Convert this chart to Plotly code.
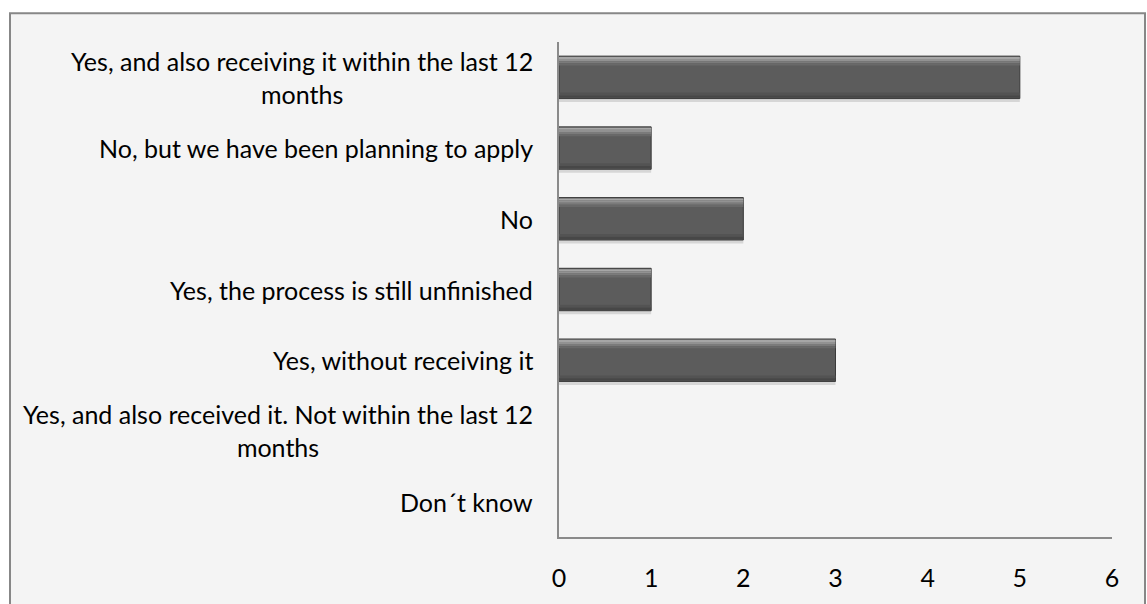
import plotly.graph_objects as go

# Survey answers (top to bottom) and counts
categories = [
    "Yes, and also receiving it within the last 12<br>months",
    "No, but we have been planning to apply",
    "No",
    "Yes, the process is still unfinished",
    "Yes, without receiving it",
    "Yes, and also received it. Not within the last 12<br>months",
    "Don´t know",
]
counts = [5, 1, 2, 1, 3, 0, 0]
x_ticks = [0, 1, 2, 3, 4, 5, 6]

W, H = 1147, 604
M_L, M_R, M_T, M_B = 559, 35, 42, 61
PW, PH = W - M_L - M_R, H - M_T - M_B

FONT = "Lato, Carlito, Calibri, sans-serif"
BAR_W = 0.6

# outline only for bars that have a length
edge_colors = ["#3a3a3a" if v > 0 else "rgba(0,0,0,0)" for v in counts]

fig = go.Figure()

# soft drop shadow under each bar
fig.add_trace(go.Bar(
    y=categories, x=counts, orientation="h", width=BAR_W, offset=-BAR_W / 2 + 0.05,
    marker=dict(color="rgba(0,0,0,0.12)", line=dict(width=0)), hoverinfo="skip",
))
# main bar body
fig.add_trace(go.Bar(
    y=categories, x=counts, orientation="h", width=BAR_W, offset=-BAR_W / 2,
    marker=dict(color="#5c5c5c", line=dict(color=edge_colors, width=1)),
))
# bevel: light top edge fading into the body, darker bottom edge
bevel = [
    (0.012, 0.03, "#a6a6a6"),
    (0.042, 0.03, "#929292"),
    (0.072, 0.03, "#7b7b7b"),
    (0.102, 0.03, "#696969"),
    (BAR_W - 0.085, 0.04, "#535353"),
    (BAR_W - 0.045, 0.035, "#474747"),
]
for start, w, col in bevel:
    fig.add_trace(go.Bar(
        y=categories, x=counts, orientation="h", width=w, offset=-BAR_W / 2 + start,
        marker=dict(color=col, line=dict(width=0)), hoverinfo="skip",
    ))

# category labels, centred lines, right-aligned block left of the axis
for cat in categories:
    fig.add_annotation(
        x=0, xref="paper", y=cat, yref="y", text=cat, showarrow=False,
        xanchor="right", yanchor="middle", align="center", xshift=-24,
        font=dict(family=FONT, size=25, color="#000000"),
    )

# grey chart frame behind the white plot area
def px_x(p):
    return (p - M_L) / PW

def px_y(p):
    return (H - M_B - p) / PH

fig.add_shape(
    type="rect", xref="paper", yref="paper", layer="below",
    x0=px_x(10), x1=px_x(1145), y0=px_y(620), y1=px_y(13),
    fillcolor="#f4f4f4", line=dict(color="#878787", width=2),
)

fig.update_layout(
    width=W, height=H,
    margin=dict(l=M_L, r=M_R, t=M_T, b=M_B, pad=0),
    paper_bgcolor="white", plot_bgcolor="white",
    barmode="overlay", showlegend=False,
    font=dict(family=FONT, size=25, color="#000000"),
    xaxis=dict(
        range=[0, 6], tickvals=x_ticks, showgrid=False, zeroline=False,
        showline=True, linecolor="#8a8a8a", linewidth=2, ticks="",
        ticklabelstandoff=18, tickfont=dict(family=FONT, size=25),
    ),
    yaxis=dict(
        autorange="reversed", showticklabels=False, showgrid=False,
        zeroline=False, showline=True, linecolor="#8a8a8a", linewidth=2, ticks="",
    ),
)

fig.write_html("out.html")
